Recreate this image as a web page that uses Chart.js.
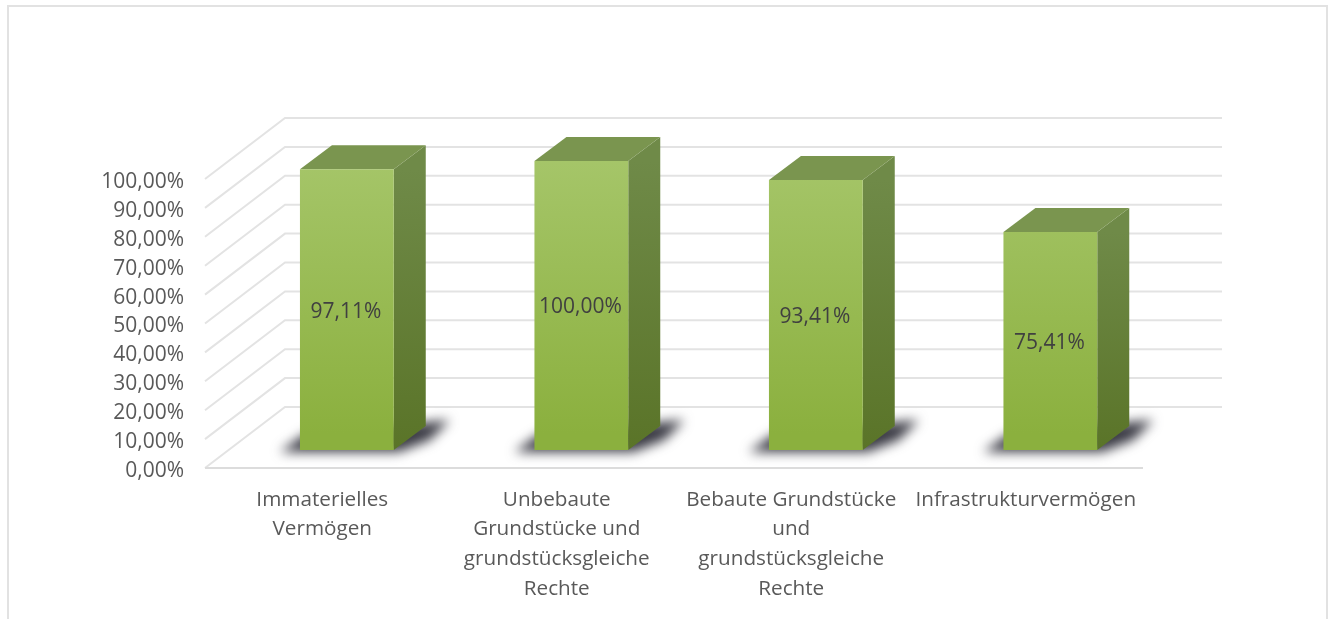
<!DOCTYPE html>
<html>
<head>
<meta charset="utf-8">
<title>Chart</title>
<script src="https://cdn.jsdelivr.net/npm/chart.js@4"></script>
<style>
  html, body { margin: 0; padding: 0; background: #fff; overflow: hidden; }
  #wrap { position: relative; width: 1333px; height: 619px; }
  #frame { position: absolute; left: 7px; top: 5px; width: 1317px; height: 620px; border: 2px solid #e2e2e2; }
  canvas { position: absolute; left: 0; top: 0; }
</style>
</head>
<body>
<div id="wrap">
  <div id="frame"></div>
  <canvas id="chart" width="1333" height="619"></canvas>
</div>
<script>
const categories = [
  ["Immaterielles", "Vermögen"],
  ["Unbebaute", "Grundstücke und", "grundstücksgleiche", "Rechte"],
  ["Bebaute Grundstücke", "und", "grundstücksgleiche", "Rechte"],
  ["Infrastrukturvermögen"]
];
const values = [97.11, 100, 93.41, 75.41];
const yTicks = [0, 10, 20, 30, 40, 50, 60, 70, 80, 90, 100];

const fontName = "'Open Sans', sans-serif";
const pct = v => v.toFixed(2).replace(".", ",") + "%";

// depth of the box walls, and of the bars inside them
const wall = { dx: 80, dy: -61 };
const barShift = { dx: 24.6, dy: -18 };
const barDepth = { dx: 32, dy: -24 };

function vGrad(ctx, top, bottom, c1, c2) {
  let g = ctx.createLinearGradient(0, top, 0, bottom);
  g.addColorStop(0, c1);
  g.addColorStop(1, c2);
  return g;
}

const box3d = {
  id: "box3d",
  // walls, floor, shadows and the side/top faces go under the bars
  beforeDatasetsDraw(chart) {
    const { ctx, scales: { y }, chartArea: area } = chart;
    ctx.save();
    ctx.lineWidth = 2;
    ctx.strokeStyle = "#e3e3e3";
    yTicks.forEach(t => {
      let py = y.getPixelForValue(t);
      ctx.beginPath();
      ctx.moveTo(area.left, py);
      ctx.lineTo(area.left + wall.dx, py + wall.dy);
      ctx.lineTo(area.right + wall.dx - 1, py + wall.dy);
      ctx.stroke();
    });
    let floorY = y.getPixelForValue(0);
    ctx.strokeStyle = "#dcdcdc";
    ctx.beginPath();
    ctx.moveTo(area.left, floorY);
    ctx.lineTo(area.right, floorY);
    ctx.stroke();
    ctx.restore();

    chart.getDatasetMeta(0).data.forEach(bar => {
      let left = bar.x - bar.width / 2 + barShift.dx;
      let right = bar.x + bar.width / 2 + barShift.dx;
      let top = bar.y + barShift.dy;
      let base = bar.base + barShift.dy;

      // floor shadow
      ctx.save();
      ctx.filter = "blur(6px)";
      ctx.fillStyle = "#3a3a44";
      ctx.beginPath();
      ctx.moveTo(left - 20, base + 2);
      ctx.lineTo(left + 5, base - 16);
      ctx.lineTo(right + 56, base - 30);
      ctx.lineTo(right + 36, base - 10);
      ctx.lineTo(right + 5, base + 2);
      ctx.closePath();
      ctx.fill();
      ctx.restore();

      // side face
      ctx.fillStyle = vGrad(ctx, top, base, "#6f8a48", "#5a7428");
      ctx.beginPath();
      ctx.moveTo(right, top);
      ctx.lineTo(right + barDepth.dx, top + barDepth.dy);
      ctx.lineTo(right + barDepth.dx, base + barDepth.dy);
      ctx.lineTo(right, base);
      ctx.closePath();
      ctx.fill();

      // top face
      ctx.fillStyle = "#7a954f";
      ctx.beginPath();
      ctx.moveTo(left, top);
      ctx.lineTo(left + barDepth.dx, top + barDepth.dy);
      ctx.lineTo(right + barDepth.dx, top + barDepth.dy);
      ctx.lineTo(right, top);
      ctx.closePath();
      ctx.fill();
    });
  },
  // the front faces are the real bars, moved back onto their plane
  beforeDatasetDraw(chart) {
    chart.ctx.save();
    chart.ctx.translate(barShift.dx, barShift.dy);
  },
  afterDatasetDraw(chart) {
    chart.ctx.restore();
  },
  afterDatasetsDraw(chart) {
    const { ctx } = chart;
    ctx.save();
    ctx.font = "21px " + fontName;
    ctx.fillStyle = "#404040";
    ctx.textAlign = "center";
    ctx.textBaseline = "middle";
    chart.getDatasetMeta(0).data.forEach((bar, i) => {
      ctx.fillText(pct(values[i]), bar.x + barShift.dx - 1, (bar.y + bar.base) / 2 + barShift.dy + 2);
    });
    ctx.restore();
  }
};

const barCtx = document.getElementById("chart").getContext("2d");

new Chart(barCtx, {
  type: "bar",
  data: {
    labels: categories,
    datasets: [{
      data: values,
      backgroundColor: vGrad(barCtx, 169, 451, "#a6c66a", "#8bb03e"),
      borderWidth: 0,
      categoryPercentage: 1,
      barPercentage: 0.4
    }]
  },
  plugins: [box3d],
  options: {
    responsive: false,
    animation: false,
    events: [],
    layout: { padding: { left: 0, top: 179, right: 190, bottom: 0 } },
    plugins: { legend: { display: false }, tooltip: { enabled: false } },
    scales: {
      x: {
        grid: { display: false, drawTicks: false },
        border: { display: false },
        afterFit(s) { s.height = 151; },
        ticks: {
          color: "#595959",
          padding: 17,
          maxRotation: 0,
          autoSkip: false,
          font: { family: fontName, size: 20.7, lineHeight: 1.43 }
        }
      },
      y: {
        min: 0,
        max: 100,
        afterBuildTicks(s) { s.ticks = yTicks.map(v => ({ value: v })); },
        afterFit(s) { s.width = 205; },
        grid: { display: false, drawTicks: false },
        border: { display: false },
        ticks: {
          color: "#595959",
          padding: 21,
          labelOffset: 3,
          callback: v => pct(v),
          font: { family: fontName, size: 21 }
        }
      }
    }
  }
});
</script>
</body>
</html>
